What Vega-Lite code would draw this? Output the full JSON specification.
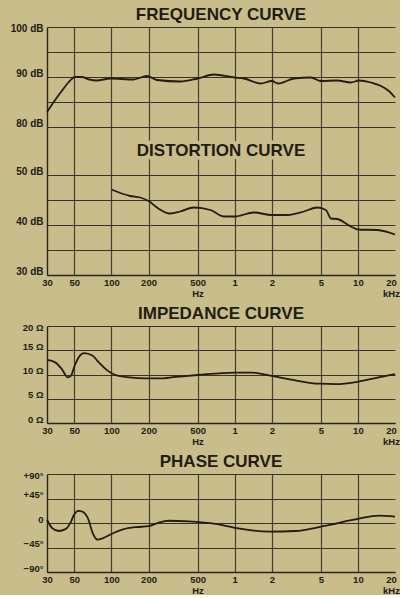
{
  "$schema": "https://vega.github.io/schema/vega-lite/v6.json",
  "background": "#c9bd8c",
  "padding": {"left": 10, "top": 6, "right": 0, "bottom": 0},
  "config": {
    "view": {"stroke": null},
    "font": "Liberation Sans",
    "concat": {"spacing": 7},
    "title": {"fontSize": 17, "fontWeight": "bold", "font": "Liberation Sans", "color": "#221c12", "anchor": "middle", "offset": -1},
    "axis": {
      "grid": true, "ticks": false, "title": null, "tickCount": 50,
      "gridColor": "#2b2419", "gridWidth": 1.2, "gridOpacity": 0.9,
      "domainColor": "#2b2419", "domainWidth": 1.4,
      "labelFont": "Liberation Sans", "labelFontWeight": "bold", "labelFontSize": 9.5, "labelColor": "#221c12",
      "labelOverlap": false, "labelFlush": false, "labelBound": false
    },
    "axisX": {"labelPadding": 2},
    "axisY": {"labelPadding": 4, "labelBaseline": "alphabetic"}
  },
  "datasets": {
    "freq": [
      {"f": 30, "v": 83.0}, {"f": 33.8, "v": 84.9}, {"f": 39.5, "v": 87.2}, {"f": 44.7, "v": 88.9}, {"f": 50.7, "v": 90.0},
      {"f": 57.5, "v": 90.0}, {"f": 66, "v": 89.5}, {"f": 76, "v": 89.3}, {"f": 98, "v": 89.7}, {"f": 151, "v": 89.5},
      {"f": 194, "v": 90.2}, {"f": 234, "v": 89.4}, {"f": 362, "v": 89.1}, {"f": 500, "v": 89.7}, {"f": 678, "v": 90.5},
      {"f": 1000, "v": 89.9}, {"f": 1189, "v": 89.7}, {"f": 1627, "v": 88.7}, {"f": 2000, "v": 89.2}, {"f": 2250, "v": 88.7},
      {"f": 3030, "v": 89.7}, {"f": 4150, "v": 89.9}, {"f": 5000, "v": 89.2}, {"f": 6800, "v": 89.3}, {"f": 8770, "v": 88.9},
      {"f": 10200, "v": 89.3}, {"f": 12700, "v": 88.9}, {"f": 15400, "v": 88.2}, {"f": 17800, "v": 87.2}, {"f": 20000, "v": 85.9}
    ],
    "dist": [
      {"f": 100, "v": 47.1}, {"f": 142, "v": 45.8}, {"f": 171, "v": 45.5}, {"f": 200, "v": 44.8}, {"f": 234, "v": 43.5},
      {"f": 300, "v": 42.3}, {"f": 362, "v": 42.7}, {"f": 465, "v": 43.5}, {"f": 636, "v": 43.0}, {"f": 815, "v": 41.7},
      {"f": 1000, "v": 41.7}, {"f": 1430, "v": 42.5}, {"f": 2000, "v": 42.0}, {"f": 2670, "v": 42.0}, {"f": 3640, "v": 42.7},
      {"f": 4690, "v": 43.5}, {"f": 5500, "v": 43.0}, {"f": 6040, "v": 41.3}, {"f": 6800, "v": 41.2}, {"f": 8770, "v": 39.7},
      {"f": 10000, "v": 39.1}, {"f": 14400, "v": 39.0}, {"f": 20000, "v": 38.1}
    ],
    "imp": [
      {"f": 30, "v": 13.0}, {"f": 35, "v": 12.5}, {"f": 39.6, "v": 11.1}, {"f": 44.3, "v": 9.4}, {"f": 46.9, "v": 9.7},
      {"f": 50.3, "v": 11.8}, {"f": 54.8, "v": 13.7}, {"f": 60, "v": 14.4}, {"f": 70, "v": 13.9}, {"f": 79, "v": 12.5},
      {"f": 93, "v": 10.8}, {"f": 108, "v": 9.9}, {"f": 140, "v": 9.4}, {"f": 190, "v": 9.2}, {"f": 245, "v": 9.2},
      {"f": 330, "v": 9.5}, {"f": 500, "v": 9.9}, {"f": 1000, "v": 10.4}, {"f": 1380, "v": 10.4}, {"f": 2000, "v": 9.7},
      {"f": 3100, "v": 8.8}, {"f": 4800, "v": 8.1}, {"f": 6700, "v": 8.0}, {"f": 9950, "v": 8.5}, {"f": 14700, "v": 9.4},
      {"f": 20000, "v": 10.1}
    ],
    "phase": [
      {"f": 30, "v": 6}, {"f": 32.9, "v": -8.8}, {"f": 37.4, "v": -14.7}, {"f": 42, "v": -11.8}, {"f": 46.7, "v": 1.2},
      {"f": 49.6, "v": 14.7}, {"f": 53.9, "v": 22.4}, {"f": 58.4, "v": 20.6}, {"f": 64.9, "v": 7}, {"f": 70.2, "v": -17.6},
      {"f": 77.3, "v": -30.6}, {"f": 84.5, "v": -28.2}, {"f": 99, "v": -20.6}, {"f": 124, "v": -11.8}, {"f": 158, "v": -7.6},
      {"f": 200, "v": -5.9}, {"f": 245, "v": 1.2}, {"f": 290, "v": 4.1}, {"f": 425, "v": 2.9}, {"f": 700, "v": -1.8},
      {"f": 1000, "v": -8.8}, {"f": 1890, "v": -15.9}, {"f": 3100, "v": -14.7}, {"f": 5230, "v": -5.9}, {"f": 9950, "v": 7.6},
      {"f": 14700, "v": 13.5}, {"f": 20000, "v": 11.8}
    ],
    "notes": [
      {"label": "DISTORTION CURVE", "f": 775, "v": 65}
    ]
  },
  "vconcat": [
    {
      "width": 348,
      "height": 248,
      "title": "FREQUENCY CURVE",
      "layer": [
        {
          "data": {"name": "freq"},
          "mark": {"type": "line", "interpolate": "monotone", "color": "#221c12", "strokeWidth": 1.8},
          "encoding": {
            "x": {"field": "f", "type": "quantitative",
              "scale": {"type": "log", "domain": [30, 20000], "nice": false},
              "axis": {
                "values": [30, 50, 100, 200, 500, 1000, 2000, 5000, 10000, 20000],
                "labelExpr": "datum.value == 500 ? ['500', 'Hz'] : datum.value == 20000 ? ['20', 'kHz'] : datum.value >= 1000 ? format(datum.value / 1000, 'd') : format(datum.value, 'd')",
                "labelLineHeight": 11,
                "labelOffset": {"condition": {"test": "datum.value == 20000", "value": -4}, "value": 0},
                "gridOpacity": {"condition": {"test": "datum.value == 30 || datum.value == 20000", "value": 0}, "value": 0.9}
              }},
            "y": {"field": "v", "type": "quantitative",
              "scale": {"domain": [30, 50, 80, 100], "range": [248, 148, 100, 0], "nice": false, "zero": false},
              "axis": {
                "values": [30, 35, 40, 45, 50, 80, 85, 90, 95, 100],
                "labelExpr": "datum.value % 10 == 0 ? datum.value + ' dB' : ''",
                "labelFontSize": 10,
                "labelOffset": {"condition": {"test": "datum.value == 100", "value": 4}, "value": -1}
              }}
          }
        },
        {
          "data": {"name": "dist"},
          "mark": {"type": "line", "interpolate": "monotone", "color": "#221c12", "strokeWidth": 1.8},
          "encoding": {
            "x": {"field": "f", "type": "quantitative"},
            "y": {"field": "v", "type": "quantitative"}
          }
        },
        {
          "data": {"name": "notes"},
          "mark": {"type": "text", "fontSize": 17, "fontWeight": "bold", "font": "Liberation Sans", "align": "center", "baseline": "middle", "color": "#c9bd8c", "stroke": "#c9bd8c", "strokeWidth": 7, "strokeJoin": "round"},
          "encoding": {
            "x": {"field": "f", "type": "quantitative"},
            "y": {"field": "v", "type": "quantitative"},
            "text": {"field": "label"}
          }
        },
        {
          "data": {"name": "notes"},
          "mark": {"type": "text", "fontSize": 17, "fontWeight": "bold", "font": "Liberation Sans", "align": "center", "baseline": "middle", "color": "#221c12"},
          "encoding": {
            "x": {"field": "f", "type": "quantitative"},
            "y": {"field": "v", "type": "quantitative"},
            "text": {"field": "label"}
          }
        }
      ]
    },
    {
      "width": 348,
      "height": 97,
      "title": "IMPEDANCE CURVE",
      "data": {"name": "imp"},
      "mark": {"type": "line", "interpolate": "monotone", "color": "#221c12", "strokeWidth": 1.8},
      "encoding": {
        "x": {"field": "f", "type": "quantitative",
          "scale": {"type": "log", "domain": [30, 20000], "nice": false},
          "axis": {
            "values": [30, 50, 100, 200, 500, 1000, 2000, 5000, 10000, 20000],
            "labelExpr": "datum.value == 500 ? ['500', 'Hz'] : datum.value == 20000 ? ['20', 'kHz'] : datum.value >= 1000 ? format(datum.value / 1000, 'd') : format(datum.value, 'd')",
            "labelLineHeight": 11,
            "labelOffset": {"condition": {"test": "datum.value == 20000", "value": -4}, "value": 0},
            "gridOpacity": {"condition": {"test": "datum.value == 30 || datum.value == 20000", "value": 0}, "value": 0.9}
          }},
        "y": {"field": "v", "type": "quantitative",
          "scale": {"domain": [0, 20], "nice": false},
          "axis": {"values": [0, 5, 10, 15, 20], "labelExpr": "datum.value + ' Ω'",
            "labelOffset": {"condition": {"test": "datum.value == 20", "value": 4}, "value": -1}}}
      }
    },
    {
      "width": 348,
      "height": 98,
      "title": "PHASE CURVE",
      "data": {"name": "phase"},
      "mark": {"type": "line", "interpolate": "monotone", "color": "#221c12", "strokeWidth": 1.8},
      "encoding": {
        "x": {"field": "f", "type": "quantitative",
          "scale": {"type": "log", "domain": [30, 20000], "nice": false},
          "axis": {
            "values": [30, 50, 100, 200, 500, 1000, 2000, 5000, 10000, 20000],
            "labelExpr": "datum.value == 500 ? ['500', 'Hz'] : datum.value == 20000 ? ['20', 'kHz'] : datum.value >= 1000 ? format(datum.value / 1000, 'd') : format(datum.value, 'd')",
            "labelLineHeight": 11,
            "labelOffset": {"condition": {"test": "datum.value == 20000", "value": -4}, "value": 0},
            "gridOpacity": {"condition": {"test": "datum.value == 30 || datum.value == 20000", "value": 0}, "value": 0.9}
          }},
        "y": {"field": "v", "type": "quantitative",
          "scale": {"domain": [-90, 90], "nice": false},
          "axis": {"values": [-90, -45, 0, 45, 90],
            "labelExpr": "datum.value > 0 ? '+' + datum.value + '°' : datum.value < 0 ? '−' + abs(datum.value) + '°' : '0'",
            "labelOffset": {"condition": {"test": "datum.value == 90", "value": 4}, "value": -1}}}
      }
    }
  ]
}
